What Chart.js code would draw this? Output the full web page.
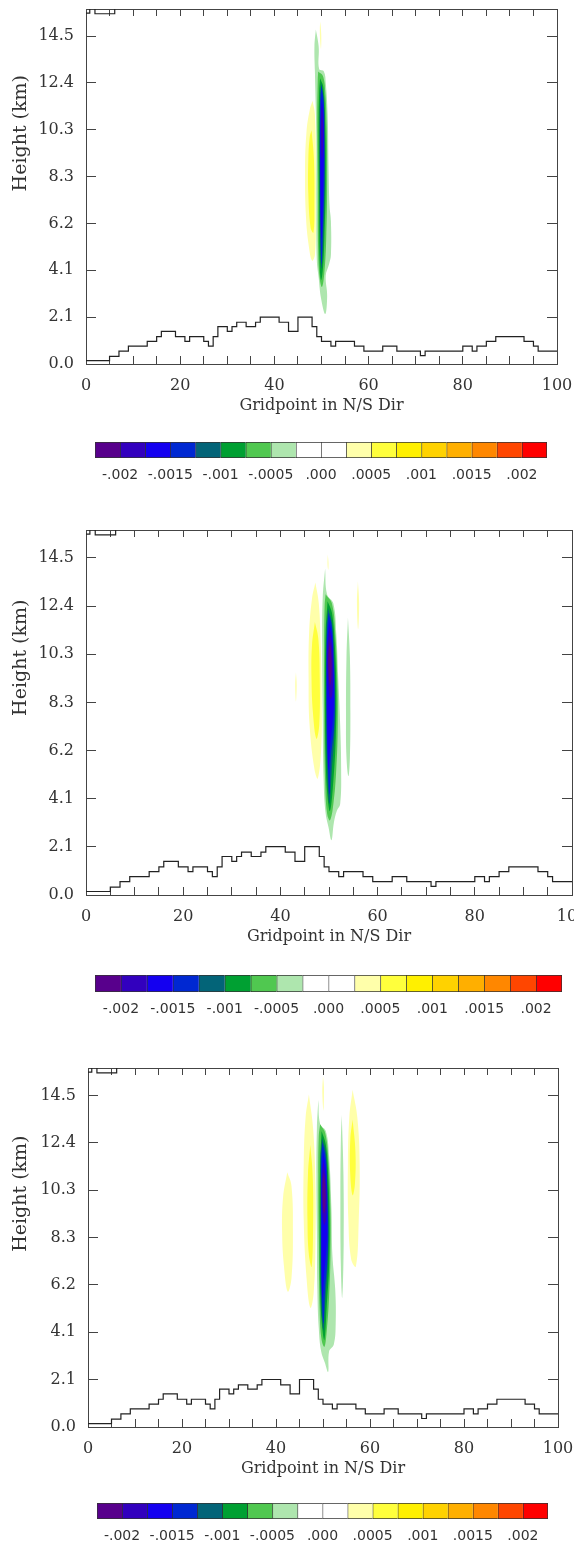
<!DOCTYPE html>
<html>
<head>
<meta charset="utf-8">
<script src="https://cdn.jsdelivr.net/npm/chart.js@4.4.1/dist/chart.umd.min.js"></script>
<style>
  html, body { margin: 0; padding: 0; background: #fff; }
  #page { position: relative; width: 574px; height: 1546px; overflow: hidden; background: #fff; }
  #page canvas { position: absolute; left: 0; }
</style>
</head>
<body>
<div id="page">
  <canvas id="panel1" width="574" height="420" style="top:0px"></canvas>
  <canvas id="bar1" width="574" height="48" style="top:440px"></canvas>
  <canvas id="panel2" width="574" height="430" style="top:521px"></canvas>
  <canvas id="bar2" width="574" height="49" style="top:973px"></canvas>
  <canvas id="panel3" width="574" height="424" style="top:1059px"></canvas>
  <canvas id="bar3" width="574" height="45" style="top:1501px"></canvas>
</div>
<script>
// axes
const yMax = 15.65;
const yTickValues = [0, 2.065, 4.13, 6.195, 8.26, 10.325, 12.39, 14.455];
const yTickLabels = ["0.0", "2.1", "4.1", "6.2", "8.3", "10.3", "12.4", "14.5"];
const xTickValues = [0, 5, 10, 15, 20, 25, 30, 35, 40, 45, 50, 55, 60, 65, 70, 75, 80, 85, 90, 95, 100];
const xTickLabels = ["0", "", "", "", "20", "", "", "", "40", "", "", "", "60", "", "", "", "80", "", "", "", "100"];

// terrain (step edges in gridpoints, height in km of each step)
const terrainX = [0, 5, 7, 9, 13, 15, 16, 19, 21, 22, 25, 26, 27, 28, 30, 31, 32, 34, 36, 37, 41, 43, 45, 48, 49,
  50, 52, 53, 57, 59, 63, 66, 71, 72, 80, 82, 83, 85, 87, 93, 95, 96, 100];
const terrainH = [0.15, 0.34, 0.57, 0.79, 1.0, 1.21, 1.44, 1.21, 1.0, 1.21, 1.0, 0.79, 1.21, 1.65, 1.44, 1.65,
  1.84, 1.65, 1.84, 2.07, 1.84, 1.44, 2.07, 1.65, 1.21, 1.0, 0.79, 1.0, 0.79, 0.57, 0.79, 0.57, 0.37, 0.57,
  0.79, 0.57, 0.79, 1.0, 1.21, 1.0, 0.79, 0.57];
// little outline at the top left corner
const capX = [0, 0.8, 0.8, 1.3, 1.9, 1.9, 6.1, 6.1];
const capH = [15.47, 15.47, 15.65, null, 15.65, 15.44, 15.44, 15.65];

// colour bar
const cbEdges = [-0.00225, -0.002, -0.00175, -0.0015, -0.00125, -0.001, -0.00075, -0.0005, -0.00025, 0,
  0.00025, 0.0005, 0.00075, 0.001, 0.00125, 0.0015, 0.00175, 0.002, 0.00225];
const cbTickValues = [-0.002, -0.0015, -0.001, -0.0005, 0, 0.0005, 0.001, 0.0015, 0.002];
const cbTickLabels = ["-.002", "-.0015", "-.001", "-.0005", ".000", ".0005", ".001", ".0015", ".002"];
const binColors = ["#58008c", "#3200be", "#1400f0", "#0028d2", "#036478", "#00a032", "#50c850", "#aee6ae",
  "#ffffff", "#ffffff", "#ffffaa", "#ffff3c", "#fff000", "#ffd200", "#ffaf00", "#ff8700", "#ff4600", "#ff0000"];

// contour regions, [gridpoint, km] outlines
const p1Green1 = [[48.8, 14.75], [49.4, 14.0], [49.5, 13.0], [50.5, 12.9], [50.9, 12.4], [51.3, 11.0], [51.5, 8.7],
  [51.7, 7.0], [52.0, 6.3], [52.0, 4.8], [51.6, 4.4], [50.9, 3.9], [51.2, 3.0], [50.8, 2.2], [49.9, 2.9],
  [49.4, 3.8], [49.0, 4.6], [48.9, 7.0], [48.9, 10.0], [48.6, 12.9], [48.5, 14.0]];
const p1Green2 = [[49.3, 12.9], [50.3, 12.7], [50.8, 12.0], [51.1, 10.5], [51.2, 8.0], [51.0, 5.5], [50.6, 4.0],
  [50.1, 3.4], [49.6, 3.8], [49.3, 5.0], [49.2, 8.0], [49.1, 11.0], [49.2, 12.5]];
const p1Green3 = [[49.7, 12.6], [50.4, 12.2], [50.8, 10.5], [50.9, 8.0], [50.6, 5.5], [50.3, 4.2], [49.9, 3.7],
  [49.6, 4.5], [49.5, 7.0], [49.4, 10.0], [49.5, 12.0]];
const p1Teal = [[49.9, 12.4], [50.4, 11.8], [50.7, 10.0], [50.7, 8.0], [50.4, 5.5], [50.0, 4.2], [49.7, 5.5],
  [49.6, 8.0], [49.6, 11.0]];
const p1Blue1 = [[50.0, 12.3], [50.5, 11.5], [50.6, 10.0], [50.6, 8.0], [50.3, 6.0], [50.0, 4.4], [49.8, 6.0],
  [49.7, 8.0], [49.7, 10.5], [49.8, 11.8]];
const p1Blue2 = [[50.0, 11.8], [50.4, 11.0], [50.5, 9.5], [50.3, 7.5], [50.0, 5.5], [49.8, 7.5], [49.8, 10.0]];
const p1Purple = [[50.1, 11.5], [50.35, 10.5], [50.3, 9.5], [50.1, 9.0], [49.9, 10.0], [49.95, 11.0]];
const p1Yellow1 = [[48.1, 11.6], [48.6, 11.0], [48.8, 9.0], [48.8, 6.5], [48.6, 4.8], [48.0, 4.55], [47.3, 5.2],
  [46.7, 6.5], [46.5, 8.5], [46.8, 10.2], [47.5, 11.2]];
const p1Yellow2 = [[47.9, 10.3], [48.4, 9.0], [48.5, 7.0], [48.3, 5.8], [47.7, 6.0], [47.2, 7.5], [47.2, 9.0],
  [47.5, 10.0]];
const p1YellowTop = [[49.75, 15.1], [49.95, 14.5], [49.9, 13.9], [49.7, 14.3], [49.65, 14.8]];
const p1Shapes = [p1Green1, p1Green2, p1Green3, p1Teal, p1Blue1, p1Blue2, p1Purple, p1Yellow1, p1Yellow2, p1YellowTop];
const p1Bins = [7, 6, 5, 4, 3, 2, 1, 10, 11, 10];

const p2Green1 = [[49.2, 14.0], [49.6, 12.9], [50.9, 12.5], [51.5, 11.2], [51.9, 9.3], [52.3, 7.3], [52.5, 5.4],
  [52.3, 3.9], [51.6, 3.6], [51.0, 3.1], [50.5, 2.35], [49.9, 2.9], [49.3, 3.5], [48.9, 4.9], [48.7, 7.8],
  [48.6, 10.7], [48.7, 12.7]];
const p2Strip = [[53.9, 11.9], [54.3, 10.2], [54.4, 7.8], [54.3, 5.9], [54.0, 5.1], [53.6, 5.9], [53.5, 7.8], [53.6, 10.2]];
const p2Green2 = [[49.3, 12.9], [50.6, 12.5], [51.3, 11.2], [51.7, 9.3], [51.8, 7.3], [51.5, 5.4], [50.9, 3.9],
  [50.2, 3.2], [49.6, 3.5], [49.2, 4.9], [49.0, 7.8], [49.0, 10.7], [49.1, 12.4]];
const p2Green3 = [[49.7, 12.6], [50.6, 12.1], [51.2, 10.7], [51.5, 8.8], [51.4, 6.8], [50.9, 4.9], [50.2, 3.6],
  [49.7, 4.2], [49.3, 5.9], [49.2, 8.8], [49.3, 11.2]];
const p2Teal = [[49.8, 12.3], [50.6, 11.7], [51.1, 10.2], [51.3, 8.3], [51.1, 6.8], [50.6, 5.4], [50.1, 3.9],
  [49.6, 5.4], [49.4, 7.8], [49.4, 10.2], [49.5, 11.5]];
const p2Blue1 = [[49.9, 12.1], [50.6, 11.5], [51.0, 10.0], [51.2, 8.3], [51.0, 7.1], [50.4, 5.9], [50.1, 4.3],
  [49.7, 5.9], [49.5, 7.8], [49.5, 10.2], [49.6, 11.3]];
const p2Blue2 = [[50.0, 11.8], [50.6, 11.1], [50.9, 9.8], [51.0, 8.3], [50.7, 7.3], [50.2, 6.3], [49.9, 5.4],
  [49.7, 6.8], [49.6, 8.8], [49.6, 10.5]];
const p2Purple1 = [[50.1, 11.5], [50.6, 10.7], [50.8, 9.6], [50.7, 8.6], [50.2, 8.4], [49.8, 9.3], [49.7, 10.5]];
const p2Purple2 = [[50.2, 10.9], [50.5, 10.2], [50.5, 9.4], [50.2, 9.0], [49.9, 9.6], [49.9, 10.4]];
const p2Yellow1 = [[47.2, 13.4], [47.9, 12.5], [48.3, 10.7], [48.5, 8.3], [48.4, 6.3], [47.7, 5.0], [47.0, 5.4],
  [46.0, 7.3], [45.8, 9.3], [45.9, 11.2], [46.5, 12.7]];
const p2Yellow2 = [[47.1, 11.7], [47.8, 11.0], [48.1, 9.3], [48.0, 7.3], [47.4, 6.7], [46.7, 7.8], [46.4, 9.3], [46.5, 10.7]];
const p2YellowTop = [[49.75, 14.6], [49.9, 14.25], [49.85, 13.95], [49.7, 14.15]];
const p2YellowRight = [[55.95, 13.45], [56.2, 12.5], [56.0, 11.4], [55.75, 12.5]];
const p2YellowLeft = [[43.2, 9.55], [43.35, 9.0], [43.2, 8.3], [43.05, 9.0]];
const p2Shapes = [p2Green1, p2Strip, p2Green2, p2Green3, p2Teal, p2Blue1, p2Blue2, p2Purple1, p2Purple2,
  p2Yellow1, p2Yellow2, p2YellowTop, p2YellowRight, p2YellowLeft];
const p2Bins = [7, 7, 6, 5, 4, 3, 2, 1, 0, 10, 11, 10, 10, 10];

const p3Green1 = [[49.0, 14.25], [49.4, 13.2], [50.6, 12.9], [51.3, 11.8], [51.8, 9.5], [52.0, 7.5], [52.6, 6.0],
  [52.7, 4.5], [52.3, 3.6], [51.3, 3.3], [51.1, 2.4], [50.4, 2.8], [49.6, 3.3], [49.1, 4.3], [48.8, 6.0],
  [48.7, 8.5], [48.6, 11.0], [48.7, 13.0]];
const p3Strip = [[54.0, 13.6], [54.35, 11.0], [54.4, 8.0], [54.1, 5.65], [53.8, 7.0], [53.7, 10.0], [53.8, 12.5]];
const p3Green2 = [[49.4, 13.2], [50.5, 12.8], [51.2, 11.5], [51.6, 9.5], [51.6, 7.5], [51.3, 5.7], [50.8, 4.2],
  [50.3, 3.5], [49.7, 3.8], [49.3, 5.0], [49.1, 8.0], [49.0, 11.0], [49.1, 12.7]];
const p3Green3 = [[49.7, 12.9], [50.6, 12.3], [51.1, 11.0], [51.4, 9.0], [51.3, 7.0], [50.8, 5.3], [50.3, 3.8],
  [49.8, 4.4], [49.4, 6.0], [49.3, 9.0], [49.4, 11.5]];
const p3Teal = [[49.8, 12.6], [50.6, 12.0], [51.0, 10.5], [51.2, 8.5], [51.0, 7.0], [50.5, 5.5], [50.1, 4.2],
  [49.6, 5.5], [49.5, 8.0], [49.5, 10.5], [49.5, 11.8]];
const p3Blue1 = [[49.9, 12.4], [50.6, 11.7], [50.9, 10.3], [51.1, 8.5], [50.9, 7.2], [50.4, 5.9], [50.1, 4.5],
  [49.7, 6.0], [49.6, 8.0], [49.6, 10.5], [49.6, 11.6]];
const p3Blue2 = [[50.0, 12.0], [50.6, 11.3], [50.8, 10.0], [50.9, 8.5], [50.6, 7.5], [50.2, 6.5], [49.9, 5.6],
  [49.7, 7.0], [49.7, 9.0], [49.7, 10.8]];
const p3Purple1 = [[50.1, 11.6], [50.6, 10.8], [50.8, 9.8], [50.6, 9.0], [50.2, 8.8], [49.8, 9.6], [49.8, 10.9]];
const p3Purple2 = [[50.2, 11.1], [50.5, 10.4], [50.5, 9.6], [50.2, 9.3], [49.95, 9.9], [49.95, 10.7]];
const p3YellowFar = [[42.4, 11.1], [43.3, 10.5], [43.6, 8.5], [43.3, 6.5], [42.5, 5.9], [41.7, 7.0], [41.3, 8.5], [41.5, 10.0]];
const p3Yellow1 = [[47.0, 14.5], [47.9, 13.0], [48.4, 10.5], [48.4, 8.0], [48.0, 5.8], [47.3, 5.2], [46.5, 6.5],
  [45.9, 9.0], [45.9, 11.5], [46.3, 13.5]];
const p3Yellow2 = [[47.3, 12.3], [47.8, 11.0], [47.9, 9.0], [47.6, 7.0], [47.0, 7.5], [46.7, 9.0], [46.8, 11.0]];
const p3YellowTop = [[50.0, 15.3], [50.2, 14.8], [50.1, 13.8], [49.85, 14.6]];
const p3YellowR1 = [[56.3, 14.7], [57.3, 13.5], [57.8, 11.5], [57.6, 9.0], [57.0, 7.0], [56.0, 7.3], [55.4, 9.0],
  [55.3, 11.5], [55.6, 13.5]];
const p3YellowR2 = [[56.3, 13.4], [56.9, 12.0], [56.8, 10.6], [56.3, 10.1], [55.8, 11.0], [55.8, 12.5]];
const p3Shapes = [p3Green1, p3Strip, p3Green2, p3Green3, p3Teal, p3Blue1, p3Blue2, p3Purple1, p3Purple2,
  p3YellowFar, p3Yellow1, p3Yellow2, p3YellowTop, p3YellowR1, p3YellowR2];
const p3Bins = [7, 7, 6, 5, 4, 3, 2, 1, 0, 10, 10, 11, 10, 10, 11];

const axisColor = "#444";
const serif = "'DejaVu Serif', serif";

const yTitlePlugin = {
  id: "yTitle",
  afterDraw(chart, args, opts) {
    const { ctx, chartArea } = chart;
    ctx.save();
    ctx.translate(opts.x, chartArea.top + (chartArea.bottom - chartArea.top) * opts.frac);
    ctx.rotate(-Math.PI / 2);
    ctx.font = "19px " + serif;
    ctx.fillStyle = "#333";
    ctx.textAlign = "center";
    ctx.textBaseline = "middle";
    ctx.fillText(opts.text, 0, 0);
    ctx.restore();
  },
};

function shapeDatasets(shapes, bins) {
  return shapes.map((pts, i) => ({
    data: pts.concat([pts[0]]).map((p) => ({ x: p[0], y: p[1] })),
    fill: "shape",
    backgroundColor: binColors[bins[i]],
    borderWidth: 0,
    pointRadius: 0,
    tension: 0.4,
    order: 1000 - i,
  }));
}

function drawPanel(id, shapes, bins, leftW, padTop, padRight) {
  const setX = (s) => { s.ticks = xTickValues.map((v) => ({ value: v })); };
  const setY = (s) => { s.ticks = yTickValues.map((v) => ({ value: v })); };
  new Chart(document.getElementById(id), {
    type: "line",
    data: {
      datasets: [
        {
          data: terrainX.map((x, i) => ({ x: x, y: terrainH[Math.min(i, terrainH.length - 1)] })),
          stepped: true,
          borderColor: "#222",
          borderWidth: 1.2,
          pointRadius: 0,
          fill: false,
          order: 0,
        },
        {
          data: capX.map((x, i) => ({ x: x, y: capH[i] })),
          borderColor: "#222",
          borderWidth: 1.2,
          pointRadius: 0,
          fill: false,
          spanGaps: false,
          order: 1,
        },
      ].concat(shapeDatasets(shapes, bins)),
    },
    options: {
      responsive: false,
      animation: false,
      events: [],
      layout: { padding: { left: 0, right: padRight, top: padTop, bottom: 0 } },
      plugins: {
        legend: { display: false },
        tooltip: { enabled: false },
        yTitle: { text: "Height (km)", x: 21, frac: 0.35 },
      },
      scales: {
        x: {
          type: "linear",
          position: "bottom",
          min: 0,
          max: 100,
          afterBuildTicks: setX,
          afterFit: (s) => { s.height = 56; s.paddingLeft = 0; s.paddingRight = 0; },
          ticks: {
            autoSkip: false,
            maxRotation: 0,
            padding: 20,
            color: "#333",
            font: { family: serif, size: 16 },
            callback: (v, i) => xTickLabels[i],
          },
          grid: { drawOnChartArea: false, tickLength: -8, color: axisColor },
          border: { color: axisColor, width: 1 },
          title: {
            display: true,
            text: "Gridpoint in N/S Dir",
            color: "#333",
            font: { family: serif, size: 16 },
            padding: { top: 0, bottom: 5 },
          },
        },
        x2: {
          type: "linear",
          position: "top",
          min: 0,
          max: 100,
          afterBuildTicks: setX,
          afterFit: (s) => { s.height = 0; s.paddingLeft = 0; s.paddingRight = 0; },
          ticks: { display: false },
          grid: { drawOnChartArea: false, tickLength: -7, color: axisColor },
          border: { color: axisColor, width: 1 },
        },
        y: {
          type: "linear",
          position: "left",
          min: 0,
          max: yMax,
          afterBuildTicks: setY,
          afterFit: (s) => { s.width = leftW; s.paddingTop = 0; s.paddingBottom = 0; },
          ticks: {
            autoSkip: false,
            padding: 22,
            color: "#333",
            font: { family: serif, size: 16 },
            callback: (v, i) => yTickLabels[i],
          },
          grid: { drawOnChartArea: false, tickLength: -10, color: axisColor },
          border: { color: axisColor, width: 1 },
        },
        y2: {
          type: "linear",
          position: "right",
          min: 0,
          max: yMax,
          afterBuildTicks: setY,
          afterFit: (s) => { s.width = 0; s.paddingTop = 0; s.paddingBottom = 0; },
          ticks: { display: false },
          grid: { drawOnChartArea: false, tickLength: -10, color: axisColor },
          border: { color: axisColor, width: 1 },
        },
      },
    },
    plugins: [yTitlePlugin],
  });
}

function drawColorbar(id, padLeft, padRight, axisH) {
  const last = binColors.length - 1;
  new Chart(document.getElementById(id), {
    type: "bar",
    data: {
      labels: ["bar"],
      datasets: binColors.map((c, i) => ({
        data: [[cbEdges[i], cbEdges[i + 1]]],
        backgroundColor: c,
        borderColor: "#333",
        borderWidth: { left: 1, top: 1, bottom: 1, right: i === last ? 1 : 0 },
        borderSkipped: false,
        grouped: false,
        barPercentage: 1,
        categoryPercentage: 1,
      })),
    },
    options: {
      indexAxis: "y",
      responsive: false,
      animation: false,
      events: [],
      layout: { padding: { left: padLeft, right: padRight, top: 2, bottom: 0 } },
      plugins: { legend: { display: false }, tooltip: { enabled: false } },
      scales: {
        y: { display: false },
        x: {
          type: "linear",
          min: cbEdges[0],
          max: cbEdges[cbEdges.length - 1],
          afterBuildTicks: (s) => { s.ticks = cbTickValues.map((v) => ({ value: v })); },
          afterFit: (s) => { s.height = axisH; s.paddingLeft = 0; s.paddingRight = 0; },
          grid: { display: false, drawTicks: false },
          border: { display: false },
          ticks: {
            autoSkip: false,
            maxRotation: 0,
            padding: 9,
            color: "#333",
            font: { family: "'DejaVu Sans', sans-serif", size: 14 },
            callback: (v, i) => cbTickLabels[i],
          },
        },
      },
    },
  });
}

drawPanel("panel1", p1Shapes, p1Bins, 86, 9, 17);
drawPanel("panel2", p2Shapes, p2Bins, 86, 9, 2);
drawPanel("panel3", p3Shapes, p3Bins, 88, 9, 16);
drawColorbar("bar1", 95, 27, 30);
drawColorbar("bar2", 95, 12, 30);
drawColorbar("bar3", 97, 26, 27);
</script>
</body>
</html>
